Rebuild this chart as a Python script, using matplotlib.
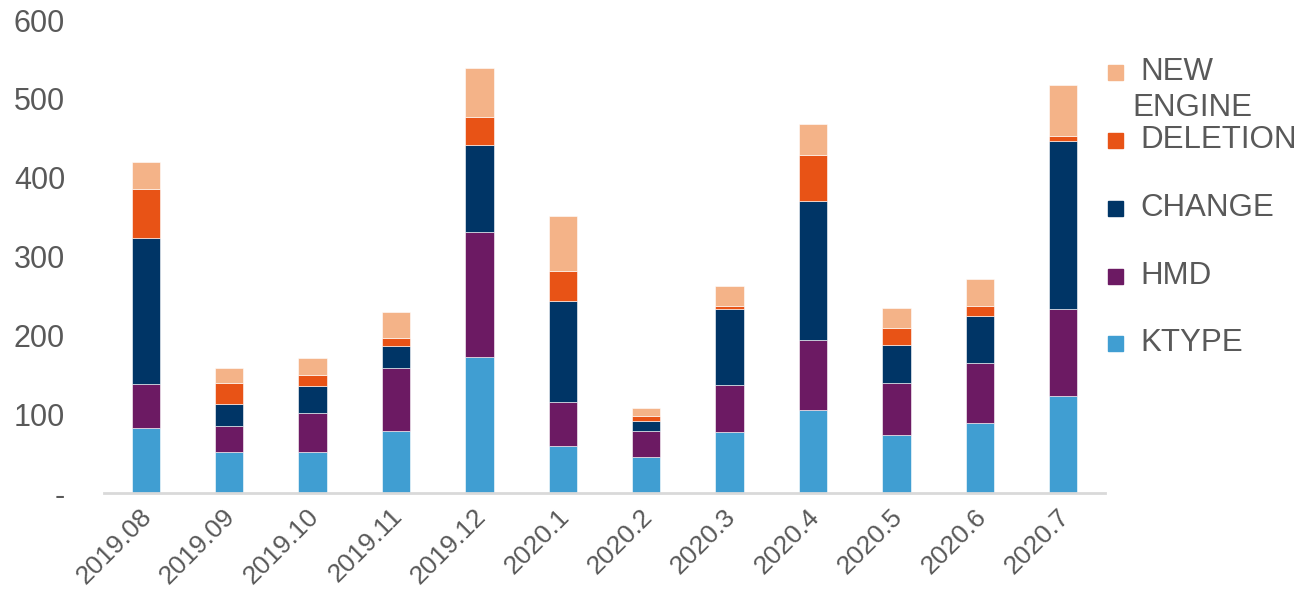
import matplotlib.pyplot as plt
import matplotlib.transforms as mtransforms
import numpy as np

plt.rcParams['font.family'] = ['Liberation Sans', 'DejaVu Sans']

months = ['2019.08', '2019.09', '2019.10', '2019.11', '2019.12', '2020.1',
          '2020.2', '2020.3', '2020.4', '2020.5', '2020.6', '2020.7']

ktype = [82, 52, 52, 79, 172, 60, 46, 77, 105, 74, 89, 123]
hmd = [56, 33, 50, 80, 159, 56, 33, 60, 89, 66, 76, 110]
change = [185, 28, 34, 27, 111, 127, 12, 97, 177, 48, 59, 213]
deletion = [63, 26, 14, 10, 35, 38, 7, 3, 58, 21, 13, 7]
new_engine = [34, 19, 21, 33, 62, 71, 10, 25, 39, 26, 35, 64]

series = [
    ('KTYPE', ktype, '#409ED2'),
    ('HMD', hmd, '#6C1A63'),
    ('CHANGE', change, '#003566'),
    ('DELETION', deletion, '#E85316'),
    ('NEW\nENGINE', new_engine, '#F4B388'),
]

grey = '#595959'
W, H = 1302, 596
fig = plt.figure(figsize=(W / 100, H / 100), dpi=100)
ax = fig.add_axes([104 / W, (H - 493) / H, (1105 - 104) / W, (493 - 20) / H])

x = np.arange(len(months))
bottom = np.zeros(len(months))
for name, vals, col in series:
    ax.bar(x, vals, width=0.34, bottom=bottom, color=col,
           edgecolor='white', linewidth=0.4, zorder=2)
    bottom += np.array(vals)

ax.set_xlim(-0.5, len(months) - 0.5)
ax.set_ylim(0, 600)
ax.set_yticks(range(0, 601, 100))
ax.set_yticklabels(['-'] + [str(v) for v in range(100, 601, 100)])
ax.set_xticks(x)
ax.set_xticklabels(months, rotation=45, ha='right', rotation_mode='anchor')
ax.tick_params(axis='x', length=0, labelsize=19, colors=grey, pad=8)
ax.tick_params(axis='y', length=0, labelsize=22, colors=grey, pad=28)

# nudge the slanted month labels a little left
shift = mtransforms.ScaledTranslation(-6 / 100, 0, fig.dpi_scale_trans)
for lab in ax.get_xticklabels():
    lab.set_transform(lab.get_transform() + shift)

for s in ['top', 'right', 'left']:
    ax.spines[s].set_visible(False)
ax.spines['bottom'].set_color('#D9D9D9')
ax.spines['bottom'].set_linewidth(2)

# legend drawn by hand, top entry first
leg_y = [72, 140, 208, 276, 343]
for (name, vals, col), yy in zip(reversed(series), leg_y):
    fig.patches.append(plt.Rectangle((1108 / W, (H - yy - 8) / H), 15 / W, 15 / H,
                                     transform=fig.transFigure, color=col))
    if '\n' in name:
        first, second = name.split('\n')
        fig.text(1140 / W, (H - yy) / H, first, fontsize=22.5, color=grey, va='center')
        fig.text(1132 / W, (H - yy - 36) / H, second, fontsize=22.5, color=grey, va='center')
    else:
        fig.text(1140 / W, (H - yy) / H, name, fontsize=22.5, color=grey, va='center')

fig.savefig('out.png', dpi=100, facecolor='white')
